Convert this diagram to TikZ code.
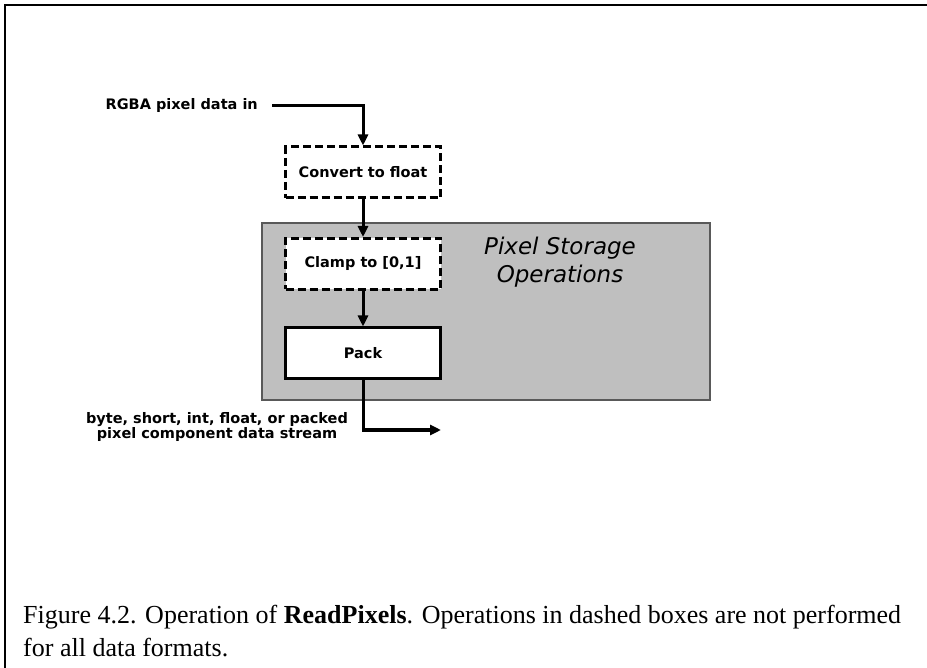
\documentclass[tikz,border=0pt]{standalone}
\usepackage{fontspec}
\setmainfont{Liberation Serif}
\setsansfont{DejaVu Sans}
\usetikzlibrary{arrows.meta}
\tikzstyle{arrow} = [line width=3pt,-{Triangle[length=11pt,width=10pt]}]
\tikzstyle{op} = [draw,line width=3pt,fill=white,minimum width=155pt,minimum height=51pt,font=\sffamily\bfseries\fontsize{14.5}{15}\selectfont]
\tikzstyle{optional} = [op,dash pattern=on 8pt off 4pt]
\tikzstyle{lbl} = [font=\sffamily\bfseries\fontsize{14.5}{15.5}\selectfont,inner sep=0pt]

\begin{document}
\begin{tikzpicture}[x=1pt,y=-1pt]
\useasboundingbox (0,0) rectangle (927,668);
\draw [line width=1.2pt] (5,668) -- (5,5) -- (927,5);

\node (storage) [draw=black!65,line width=1.2pt,fill=black!25,minimum width=448pt,minimum height=177pt] at (486,311.5) {};
\node (title) [font=\sffamily\itshape\fontsize{23}{28}\selectfont,align=center] at (560,262) {Pixel Storage\\Operations};

\node (rgba) [lbl,anchor=east] at (258,106) {RGBA pixel data in};
\node (convert) [optional] at (363,172.5) {Convert to float};
\node (clamp) [optional] at (363,264) {Clamp to [0,1]};
\node (pack) [op] at (363,353.5) {Pack};
\node (out) [lbl,align=center] at (217,427) {byte, short, int, float, or packed\\pixel component data stream};
\coordinate (outend) at (441,430);

\draw [arrow] ([xshift=14pt]rgba.east) -| (convert.north);
\draw [arrow] (convert) -- (clamp);
\draw [arrow] (clamp) -- (pack);
\draw [arrow] (pack.south) |- (outend);

\node (caption) [anchor=north west,align=left,inner sep=0pt,font=\fontsize{26}{33}\selectfont] at (23,605)
  {Figure 4.2. Operation of \textbf{ReadPixels}. Operations in dashed boxes are not performed\\for all data formats.};

\end{tikzpicture}
\end{document}
